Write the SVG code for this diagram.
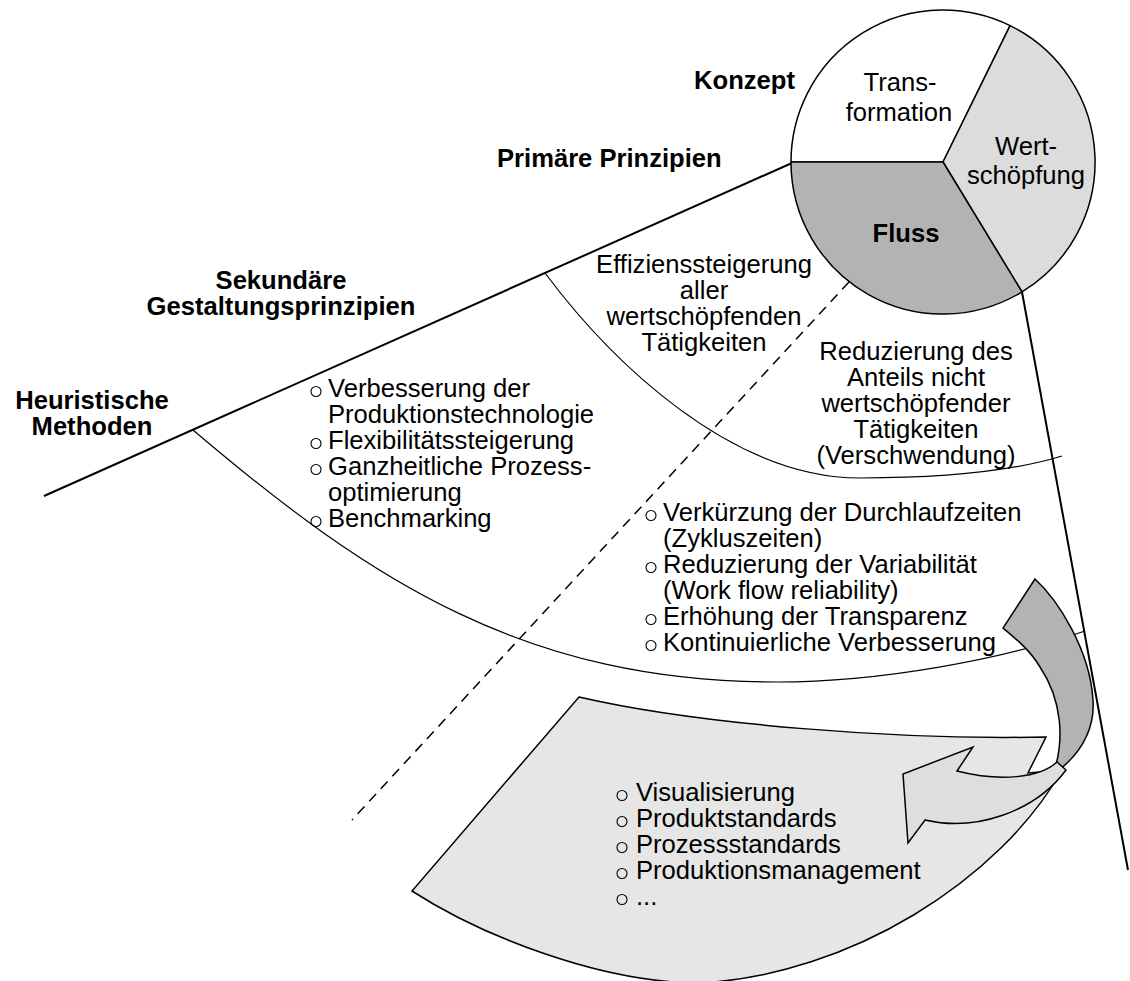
<svg xmlns="http://www.w3.org/2000/svg" width="1130" height="981" viewBox="0 0 1130 981">
  <style>
    text { font-family: "Liberation Sans", Arial, Helvetica, sans-serif; font-size: 25.6px; fill: #000; }
    .b { font-weight: bold; }
    .m { text-anchor: middle; }
    .axis { fill: none; stroke: #000; stroke-width: 2; }
    .arc { fill: none; stroke: #000; stroke-width: 1.2; }
    .dash { fill: none; stroke: #000; stroke-width: 1.5; stroke-dasharray: 10 7; }
    .edge { stroke: #000; stroke-width: 1.5; stroke-linejoin: miter; }
    .dot { fill: none; stroke: #000; stroke-width: 1.1; }
  </style>

  <!-- background -->
  <rect width="1130" height="981" fill="#fff"/>

  <!-- level boundaries -->
  <g id="connectors">
    <line class="axis" x1="44" y1="496" x2="792" y2="163"/>
    <line class="axis" x1="1022" y1="292" x2="1128" y2="870"/>
    <path class="arc" d="M545,273 C610,360 730,478 860,478 C940,478 1010,472 1062,456"/>
    <path class="arc" d="M193,430 C373,583 527,682 777,682 C880,682 1000,660 1085,631"/>
    <line class="dash" x1="849" y1="282" x2="352" y2="820"/>
  </g>

  <!-- methods area with curved arrow -->
  <g id="methods">
    <path class="edge" fill="#e6e6e6" d="M579,697 C700,725 900,740 1046,737 L1028,773 L1062,770 C1000,880 850,975 700,983 C600,983 480,935 412,891 Z"/>
    <path class="edge" fill="#b3b3b3" d="M1035,579 C1058,600 1090,650 1093,700 C1095,730 1080,755 1053,775 C1065,740 1062,700 1040,667 C1030,650 1015,638 1003,628 Z"/>
    <path class="edge" fill="#dedede" d="M957,771 L973,747 L903,774 L908,843 L925,820 C975,832 1035,812 1066,770 L1057,762 C1040,778 1000,782 957,771 Z"/>
    <g>
      <circle class="dot" cx="622" cy="795.5" r="5"/>
      <circle class="dot" cx="622" cy="821.5" r="5"/>
      <circle class="dot" cx="622" cy="847.5" r="5"/>
      <circle class="dot" cx="622" cy="873.5" r="5"/>
      <circle class="dot" cx="622" cy="899.5" r="5"/>
      <text x="636" y="801">Visualisierung</text>
      <text x="636" y="827">Produktstandards</text>
      <text x="636" y="853">Prozessstandards</text>
      <text x="636" y="879">Produktionsmanagement</text>
      <text x="636" y="905">...</text>
    </g>
  </g>

  <!-- concept circle -->
  <g id="concept">
    <path class="edge" fill="#fff" d="M943,162 L791,162 A152,152 0 0 1 1010.1,25.6 Z"/>
    <path class="edge" fill="#dcdcdc" d="M943,162 L1010.1,25.6 A152,152 0 0 1 1022,291.9 Z"/>
    <path class="edge" fill="#b3b3b3" d="M943,162 L1022,291.9 A152,152 0 0 1 791,162 Z"/>
    <text class="m" x="900" y="91">Trans-</text>
    <text class="m" x="899" y="121">formation</text>
    <text class="m" x="1026" y="155">Wert-</text>
    <text class="m" x="1026" y="184">schöpfung</text>
    <text class="b m" x="906" y="242">Fluss</text>
  </g>

  <!-- level titles -->
  <g id="titles">
    <text class="b" x="795" y="89" text-anchor="end">Konzept</text>
    <text class="b" x="497" y="167">Primäre Prinzipien</text>
    <text class="b m" x="281" y="289">Sekundäre</text>
    <text class="b m" x="281" y="315">Gestaltungsprinzipien</text>
    <text class="b m" x="92" y="409">Heuristische</text>
    <text class="b m" x="92" y="435">Methoden</text>
  </g>

  <!-- primary principles -->
  <g id="primary-left">
    <text class="m" x="704" y="273">Effizienssteigerung</text>
    <text class="m" x="704" y="299">aller</text>
    <text class="m" x="704" y="325">wertschöpfenden</text>
    <text class="m" x="704" y="351">Tätigkeiten</text>
  </g>
  <g id="primary-right">
    <text class="m" x="916" y="360">Reduzierung des</text>
    <text class="m" x="916" y="386">Anteils nicht</text>
    <text class="m" x="916" y="412">wertschöpfender</text>
    <text class="m" x="916" y="438">Tätigkeiten</text>
    <text class="m" x="916" y="464">(Verschwendung)</text>
  </g>

  <!-- secondary principles -->
  <g id="secondary-left">
    <circle class="dot" cx="316" cy="391.5" r="5"/>
    <circle class="dot" cx="316" cy="443.5" r="5"/>
    <circle class="dot" cx="316" cy="469.5" r="5"/>
    <circle class="dot" cx="316" cy="521.5" r="5"/>
    <text x="328" y="397">Verbesserung der</text>
    <text x="328" y="423">Produktionstechnologie</text>
    <text x="328" y="449">Flexibilitätssteigerung</text>
    <text x="328" y="475">Ganzheitliche Prozess-</text>
    <text x="328" y="501">optimierung</text>
    <text x="328" y="527">Benchmarking</text>
  </g>
  <g id="secondary-right">
    <circle class="dot" cx="651" cy="515.5" r="5"/>
    <circle class="dot" cx="651" cy="567.5" r="5"/>
    <circle class="dot" cx="651" cy="619.5" r="5"/>
    <circle class="dot" cx="651" cy="645.5" r="5"/>
    <text x="663" y="521">Verkürzung der Durchlaufzeiten</text>
    <text x="663" y="547">(Zykluszeiten)</text>
    <text x="663" y="573">Reduzierung der Variabilität</text>
    <text x="663" y="599">(Work flow reliability)</text>
    <text x="663" y="625">Erhöhung der Transparenz</text>
    <text x="663" y="651">Kontinuierliche Verbesserung</text>
  </g>
</svg>
